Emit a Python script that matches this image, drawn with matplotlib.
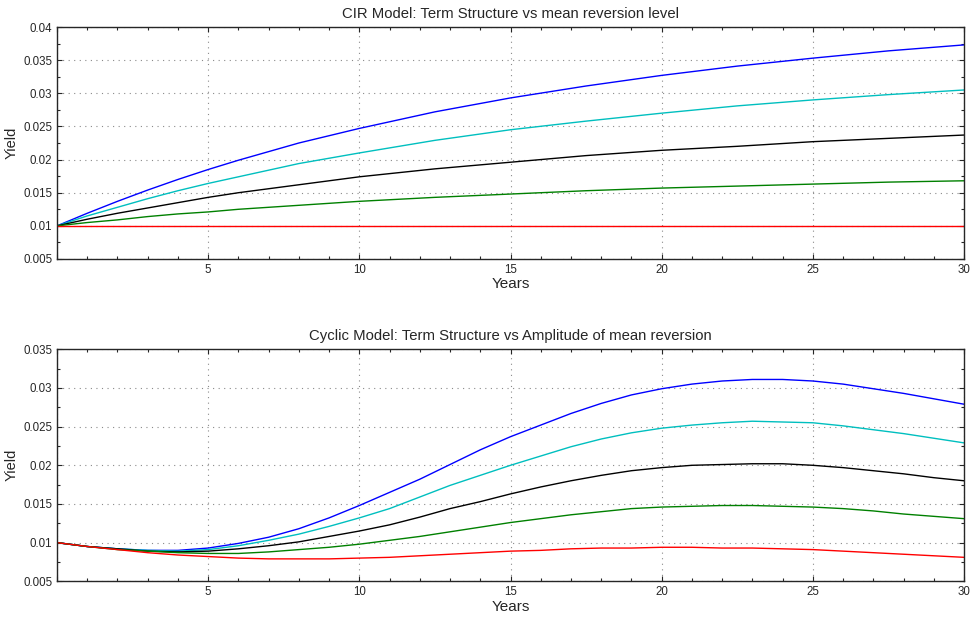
import matplotlib
matplotlib.use("Agg")
import matplotlib.pyplot as plt
from matplotlib.ticker import MultipleLocator, FuncFormatter

plt.rcParams['font.family'] = ['Liberation Sans', 'DejaVu Sans']

# ---- CIR model: term structure vs mean reversion level ----
cir_years = [0, 1, 2, 3, 4, 5, 6, 8, 10, 12.5, 15, 17.5, 20, 22.5, 25, 27.5, 30]
cir_blue = [0.0100, 0.0119, 0.0137, 0.0154, 0.0170, 0.0185, 0.0199, 0.0225, 0.0247,
            0.0272, 0.0293, 0.0311, 0.0327, 0.0341, 0.0353, 0.0364, 0.0373]
cir_cyan = [0.0100, 0.0115, 0.0128, 0.0141, 0.0153, 0.0164, 0.0174, 0.0194, 0.0210,
            0.0229, 0.0245, 0.0258, 0.0270, 0.0281, 0.0290, 0.0298, 0.0305]
cir_black = [0.0100, 0.0110, 0.0119, 0.0127, 0.0135, 0.0143, 0.0150, 0.0162, 0.0174,
             0.0186, 0.0196, 0.0206, 0.0214, 0.0220, 0.0227, 0.0232, 0.0237]
cir_green = [0.0100, 0.0105, 0.0109, 0.0114, 0.0118, 0.0121, 0.0125, 0.0131, 0.0137,
             0.0143, 0.0148, 0.0153, 0.0157, 0.0160, 0.0163, 0.0166, 0.0168]
cir_red = [0.0100] * len(cir_years)

# ---- Cyclic model: term structure vs amplitude of mean reversion ----
cyc_years = list(range(0, 31))
cyc_blue = [0.0100, 0.0095, 0.0092, 0.0090, 0.0090, 0.0093, 0.0099, 0.0107, 0.0118, 0.0132,
            0.0148, 0.0165, 0.0182, 0.0201, 0.0220, 0.0237, 0.0252, 0.0267, 0.0280, 0.0291,
            0.0299, 0.0305, 0.0309, 0.0311, 0.0311, 0.0309, 0.0305, 0.0299, 0.0293, 0.0286,
            0.0279]
cyc_cyan = [0.0100, 0.0095, 0.0092, 0.0090, 0.0089, 0.0091, 0.0096, 0.0103, 0.0111, 0.0121,
            0.0132, 0.0144, 0.0159, 0.0174, 0.0187, 0.0200, 0.0212, 0.0224, 0.0234, 0.0242,
            0.0248, 0.0252, 0.0255, 0.0257, 0.0256, 0.0255, 0.0251, 0.0246, 0.0241, 0.0235,
            0.0229]
cyc_black = [0.0100, 0.0095, 0.0092, 0.0089, 0.0088, 0.0089, 0.0092, 0.0096, 0.0101, 0.0108,
             0.0115, 0.0123, 0.0133, 0.0144, 0.0153, 0.0163, 0.0172, 0.0180, 0.0187, 0.0193,
             0.0197, 0.0200, 0.0201, 0.0202, 0.0202, 0.0200, 0.0197, 0.0193, 0.0189, 0.0184,
             0.0180]
cyc_green = [0.0100, 0.0095, 0.0091, 0.0089, 0.0087, 0.0086, 0.0086, 0.0088, 0.0091, 0.0094,
             0.0098, 0.0103, 0.0108, 0.0114, 0.0120, 0.0126, 0.0131, 0.0136, 0.0140, 0.0144,
             0.0146, 0.0147, 0.0148, 0.0148, 0.0147, 0.0146, 0.0144, 0.0141, 0.0137, 0.0134,
             0.0131]
cyc_red = [0.0100, 0.0095, 0.0091, 0.0087, 0.0084, 0.0082, 0.0080, 0.0079, 0.0079, 0.0079,
           0.0080, 0.0081, 0.0083, 0.0085, 0.0087, 0.0089, 0.0090, 0.0092, 0.0093, 0.0093,
           0.0094, 0.0094, 0.0093, 0.0093, 0.0092, 0.0091, 0.0089, 0.0087, 0.0085, 0.0083,
           0.0081]

colors = ['#0000ff', '#00bfbf', '#000000', '#008000', '#ff0000']

fig = plt.figure(figsize=(9.73, 6.17), dpi=100)
ax1 = fig.add_axes([57 / 973, 1 - 259 / 617, 907 / 973, 232 / 617])
ax2 = fig.add_axes([57 / 973, 1 - 581.3 / 617, 907 / 973, 232 / 617])

fmt = FuncFormatter(lambda v, p: ('%g' % round(v, 4)))


def style(ax, ymin, ymax, title):
    ax.set_xlim(0, 30)
    ax.set_ylim(ymin, ymax)
    ax.xaxis.set_major_locator(MultipleLocator(5))
    ax.xaxis.set_minor_locator(MultipleLocator(1))
    ax.yaxis.set_major_locator(MultipleLocator(0.005))
    ax.yaxis.set_minor_locator(MultipleLocator(0.0025))
    ax.yaxis.set_major_formatter(fmt)
    ax.xaxis.set_major_formatter(FuncFormatter(lambda v, p: '' if v == 0 else '%g' % v))
    ax.tick_params(which='both', direction='in', top=True, right=True,
                   labelsize=8.3, colors='#262626', width=0.8)
    ax.tick_params(which='major', length=3.8)
    ax.tick_params(which='minor', length=2.4)
    ax.grid(True, which='major', linestyle=(0, (1, 4)), color='#8a8a8a', linewidth=0.8)
    for s in ax.spines.values():
        s.set_linewidth(1.0)
        s.set_color('#262626')
    ax.set_title(title, fontsize=10.7, color='#262626', pad=6.5)
    ax.set_xlabel('Years', fontsize=11, color='#262626', labelpad=1)
    ax.set_ylabel('Yield', fontsize=10.5, color='#262626', labelpad=3)


for ys, c in zip([cir_blue, cir_cyan, cir_black, cir_green, cir_red], colors):
    ax1.plot(cir_years, ys, color=c, linewidth=1.0)
for ys, c in zip([cyc_blue, cyc_cyan, cyc_black, cyc_green, cyc_red], colors):
    ax2.plot(cyc_years, ys, color=c, linewidth=1.0)

style(ax1, 0.005, 0.04, 'CIR Model: Term Structure vs mean reversion level')
style(ax2, 0.005, 0.035, 'Cyclic Model: Term Structure vs Amplitude of mean reversion')

fig.savefig('out.png', dpi=100)
